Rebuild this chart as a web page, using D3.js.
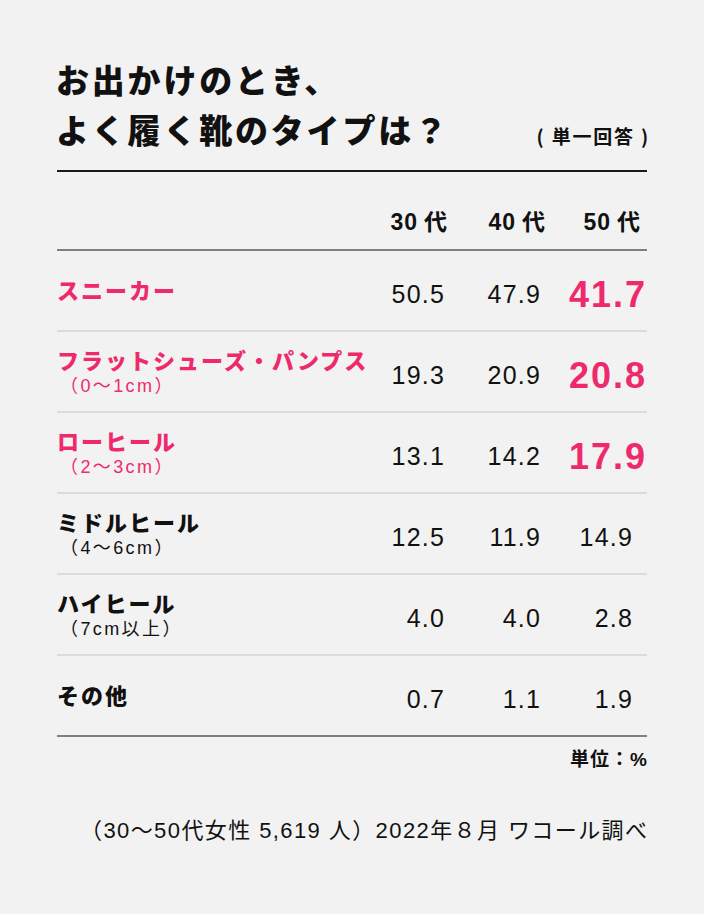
<!DOCTYPE html>
<html><head><meta charset="utf-8">
<script src="https://cdn.jsdelivr.net/npm/d3@7"></script>
<style>
html,body{margin:0;padding:0;background:#f2f2f2;}
svg{display:block;}
text{font-family:"Noto Sans CJK JP","Noto Sans",sans-serif;}
.num{font-family:"Liberation Sans","Noto Sans CJK JP",sans-serif;}
</style></head>
<body>
<script>
const titleLines = ["お出かけのとき、", "よく履く靴のタイプは？"];
const note = "( 単一回答 )";
const columns = ["30代", "40代", "50代"];
const categories = ["スニーカー", "フラットシューズ・パンプス", "ローヒール", "ミドルヒール", "ハイヒール", "その他"];
const subLabels = ["", "（0～1cm）", "（2～3cm）", "（4～6cm）", "（7cm以上）", ""];
const values30 = [50.5, 19.3, 13.1, 12.5, 4.0, 0.7];
const values40 = [47.9, 20.9, 14.2, 11.9, 4.0, 1.1];
const values50 = [41.7, 20.8, 17.9, 14.9, 2.8, 1.9];
const highlighted = [true, true, true, false, false, false];
const unitLabel = "単位：%";
const source = "（30～50代女性 5,619 人）2022年８月 ワコール調べ";

const W = 704, H = 914, PINK = "#ee2a6d", INK = "#111";
const svg = d3.select("body").append("svg").attr("width", W).attr("height", H);
svg.append("rect").attr("width", W).attr("height", H).attr("fill", "#f2f2f2");

const left = 57, right = 647;
const series = [values30, values40, values50];

// title
svg.selectAll(".title").data(titleLines).join("text")
  .attr("x", left - 1).attr("y", (d, i) => 93 + i * 50)
  .attr("font-size", 33).attr("font-weight", 900).attr("letter-spacing", 2.8)
  .attr("fill", INK).text(d => d);
svg.append("text").attr("x", right + 3).attr("y", 144).attr("text-anchor", "end")
  .attr("font-size", 19).attr("font-weight", 700).attr("fill", INK)
  .attr("letter-spacing", 1.8).text(note);

// rules
svg.append("line").attr("x1", left).attr("x2", right).attr("y1", 171).attr("y2", 171)
  .attr("stroke", "#1a1a1a").attr("stroke-width", 2);

// scales
const y = d3.scaleBand().domain(d3.range(categories.length)).range([250, 736]);
const colRight = d3.scaleOrdinal().domain(columns).range([444, 540, 632]);
const colHeadRight = d3.scaleOrdinal().domain(columns).range([447, 545, 640]);

// header
svg.selectAll(".head").data(columns).join("text")
  .attr("class", "num")
  .attr("x", d => colHeadRight(d)).attr("y", 230).attr("text-anchor", "end")
  .attr("font-size", 23).attr("font-weight", 700).attr("fill", INK)
  .each(function(d) {
    const t = d3.select(this);
    t.append("tspan").attr("letter-spacing", 1).text(d.slice(0, 2));
    t.append("tspan").attr("dx", 6).text(d.slice(2));
  });

svg.append("line").attr("x1", left).attr("x2", right).attr("y1", 250).attr("y2", 250)
  .attr("stroke", "#7f7f7f").attr("stroke-width", 2);

// row separators
svg.selectAll(".sep").data(d3.range(1, categories.length)).join("line")
  .attr("x1", left).attr("x2", right)
  .attr("y1", d => y(d)).attr("y2", d => y(d))
  .attr("stroke", "#dcdcdc").attr("stroke-width", 2);

svg.append("line").attr("x1", left).attr("x2", right).attr("y1", 736).attr("y2", 736)
  .attr("stroke", "#7f7f7f").attr("stroke-width", 2);

// rows
const rows = svg.selectAll(".row").data(categories).join("g")
  .attr("transform", (d, i) => `translate(0,${y(i)})`);

rows.append("text")
  .attr("x", left)
  .attr("y", (d, i) => subLabels[i] ? 38 : 49)
  .attr("font-size", 22).attr("font-weight", 900).attr("letter-spacing", 2)
  .attr("fill", (d, i) => highlighted[i] ? PINK : INK)
  .text(d => d);

rows.append("text")
  .attr("class", "num")
  .attr("x", left + 3)
  .attr("y", 61)
  .attr("font-size", 18).attr("font-weight", 400).attr("letter-spacing", 2.4)
  .attr("fill", (d, i) => highlighted[i] ? PINK : INK)
  .text((d, i) => subLabels[i]);

columns.forEach((c, ci) => {
  const big = (i) => ci === 2 && highlighted[i];
  rows.append("text")
    .attr("class", "num")
    .attr("text-anchor", "end")
    .attr("x", (d, i) => big(i) ? 647 : colRight(c) + 1)
    .attr("y", (d, i) => big(i) ? 57 : 53)
    .attr("font-size", (d, i) => big(i) ? 36 : 25)
    .attr("letter-spacing", (d, i) => big(i) ? 2 : 1.2)
    .attr("font-weight", (d, i) => big(i) ? 700 : 400)
    .attr("fill", (d, i) => big(i) ? PINK : INK)
    .text((d, i) => d3.format(".1f")(series[ci][i]));
});

// unit + source
svg.append("text").attr("x", right + 1).attr("y", 766).attr("text-anchor", "end")
  .attr("class", "num")
  .attr("font-size", 19).attr("font-weight", 700).attr("letter-spacing", 1).attr("fill", INK).text(unitLabel);
svg.append("text").attr("x", 80).attr("y", 838)
  .attr("class", "num")
  .attr("font-size", 22).attr("font-weight", 400).attr("fill", INK)
  .attr("textLength", 567).attr("lengthAdjust", "spacing").text(source);
</script>
</body></html>
